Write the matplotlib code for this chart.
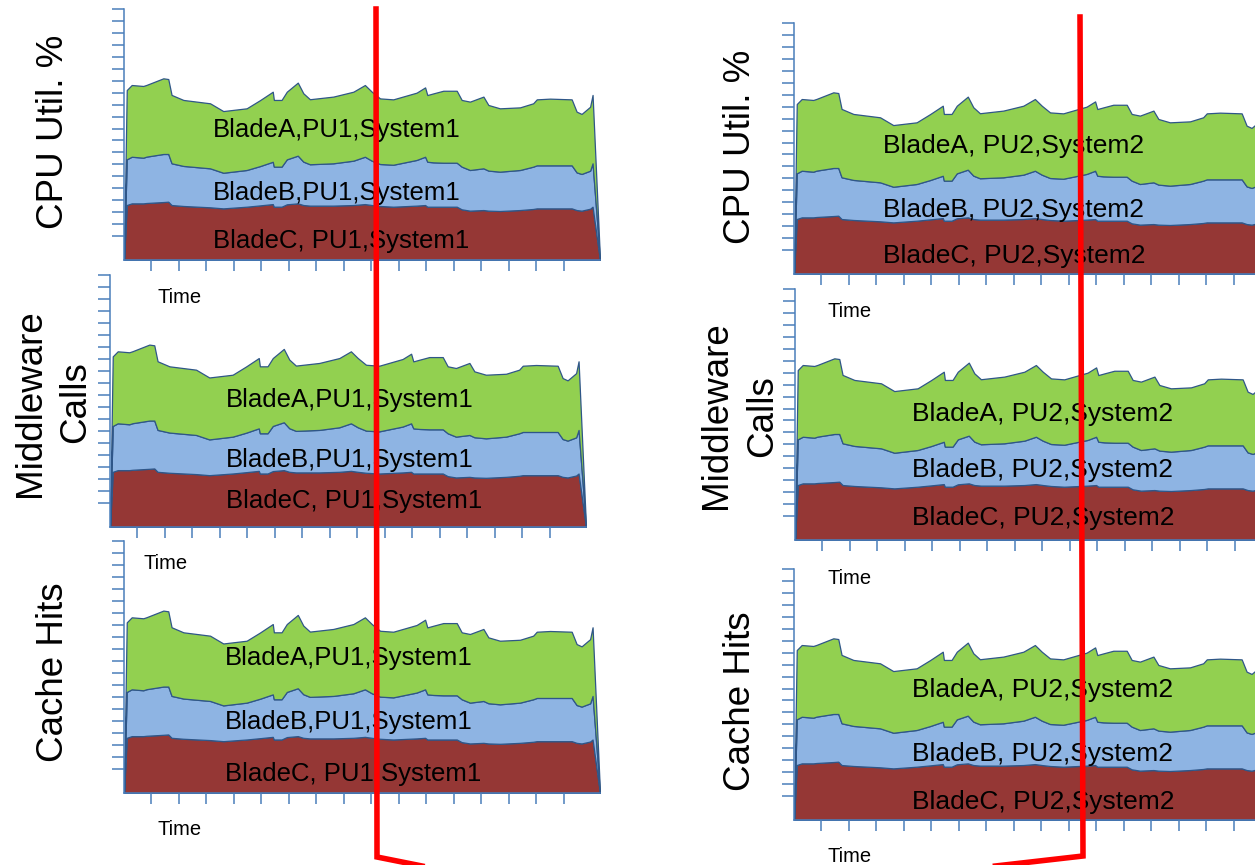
import matplotlib
matplotlib.use("Agg")
import matplotlib.pyplot as plt
from matplotlib.lines import Line2D

plt.rcParams['font.family'] = ['Liberation Sans', 'DejaVu Sans']

W, H = 1255, 865

# ---- data (same trace repeated in every panel) ----
time = [0.00, 0.10, 0.28, 0.70, 0.82, 1.43, 1.61, 1.73, 2.16, 3.13, 3.61,
        4.46, 4.95, 5.41, 5.45, 5.73, 5.92, 6.32, 6.52, 6.76, 7.61,
        8.34, 8.76, 9.01, 9.31, 9.79, 10.64, 10.95, 11.03, 11.25, 11.61,
        12.10, 12.28, 12.58, 13.07, 13.25, 13.67, 14.40, 14.88, 15.01, 15.49,
        16.28, 16.46, 16.64, 16.95, 17.04, 17.31]
blade_c = [0, 4.60, 4.74, 4.74, 4.77, 4.85, 4.88, 4.60, 4.52, 4.41, 4.32,
           4.46, 4.57, 4.68, 4.46, 4.46, 4.66, 4.74, 4.60, 4.55, 4.55,
           4.60, 4.68, 4.60, 4.52, 4.46, 4.55, 4.60, 4.46, 4.46, 4.46,
           4.46, 4.24, 4.13, 4.18, 4.13, 4.10, 4.18, 4.27, 4.32, 4.32,
           4.32, 4.18, 4.13, 4.29, 4.46, 0]
blade_b = [0, 3.82, 3.90, 3.82, 3.88, 4.02, 3.99, 3.49, 3.35, 3.26, 2.98,
           3.07, 3.29, 3.54, 3.35, 3.35, 3.76, 3.99, 3.63, 3.46, 3.54,
           3.71, 3.96, 3.71, 3.51, 3.51, 3.82, 4.04, 3.76, 3.71, 3.68,
           3.68, 3.57, 3.40, 3.49, 3.35, 3.29, 3.35, 3.54, 3.60, 3.60,
           3.60, 3.15, 3.07, 3.18, 3.63, 0]
blade_a = [0, 5.80, 6.00, 6.00, 6.00, 6.33, 6.27, 5.72, 5.52, 5.44, 5.16,
           5.16, 5.52, 5.86, 5.58, 5.58, 5.66, 6.11, 5.72, 5.44, 5.58,
           5.77, 6.00, 5.77, 5.49, 5.47, 5.63, 5.80, 5.58, 5.77, 6.02,
           6.02, 5.58, 5.72, 6.00, 5.49, 5.30, 5.24, 5.30, 5.52, 5.58,
           5.52, 5.08, 5.02, 5.35, 5.72, 0]

x_ticks = list(range(1, 17))
y_ticks = list(range(2, 22))
x_max, y_max = 17.31, 21

metric_labels = [["CPU Util. %"], ["Middleware", "Calls"], ["Cache Hits"]]
series_left = ["BladeA,PU1,System1", "BladeB,PU1,System1", "BladeC, PU1,System1"]
series_right = ["BladeA, PU2,System2", "BladeB, PU2,System2", "BladeC, PU2,System2"]
x_title = "Time"

GREEN, BLUE, RED = '#92d050', '#8eb4e3', '#953735'
AXC = '#4a7ebb'
EDGE = '#2f5688'

# ---- layout (pixels) ----
panels = [
    dict(box=(124, 9, 260), lx=213, lb=(137, 200, 248), tpos=(158, 303),
         ylab=[(63, 131.5)], metric=0, names=series_left, fs=18.5),
    dict(box=(110, 275, 527), lx=226, lb=(407, 467, 508), tpos=(144, 569),
         ylab=[(40, 403), (85, 402)], metric=1, names=series_left, fs=18.5),
    dict(box=(124, 541, 793), lx=225, lb=(665, 729, 781), tpos=(158, 835),
         ylab=[(63, 672)], metric=2, names=series_left, fs=18.5),
    dict(box=(794, 23, 274), lx=883, lb=(153, 217, 263), tpos=(828, 317),
         ylab=[(750, 146.5)], metric=0, names=series_right, fs=19),
    dict(box=(795, 289, 540), lx=912, lb=(421, 477, 525), tpos=(828, 584),
         ylab=[(726, 415), (772, 416)], metric=1, names=series_right, fs=19),
    dict(box=(794, 569, 820), lx=912, lb=(697, 761, 809), tpos=(828, 862),
         ylab=[(750, 701)], metric=2, names=series_right, fs=19),
]

fig = plt.figure(figsize=(W / 100, H / 100), dpi=100)


def fx(x):
    return x / W


def fy(y):
    return 1 - y / H


for p in panels:
    left, top, bottom = p['box']
    ax = fig.add_axes([fx(left), fy(bottom), 476 / W, (bottom - top) / H])
    ax.set_facecolor('none')
    ax.stackplot(time, blade_c, blade_b, blade_a,
                 colors=[RED, BLUE, GREEN], edgecolor=EDGE, linewidth=0.9)
    ax.set_xlim(0, x_max)
    ax.set_ylim(0, y_max)
    ax.set_xticks(x_ticks)
    ax.set_yticks(y_ticks)
    ax.tick_params(axis='y', direction='out', length=8.6, width=1.1,
                   color=AXC, labelleft=False)
    ax.tick_params(axis='x', direction='out', length=8.0, width=1.1,
                   color=AXC, labelbottom=False)
    for s in ('top', 'right'):
        ax.spines[s].set_visible(False)
    for s in ('left', 'bottom'):
        ax.spines[s].set_color(AXC)
        ax.spines[s].set_linewidth(1.1)

    for name, base in zip(p['names'], p['lb']):
        fig.text(fx(p['lx']), fy(base), name, fontsize=p['fs'],
                 ha='left', va='baseline', color='black')

    fig.text(fx(p['tpos'][0]), fy(p['tpos'][1]), x_title, fontsize=14.5,
             ha='left', va='baseline', color='black')

    for txt, (bx, cy) in zip(metric_labels[p['metric']], p['ylab']):
        fig.text(fx(bx), fy(cy), txt, fontsize=26.5, rotation=90,
                 rotation_mode='anchor', ha='center', va='baseline',
                 color='black')

# red bracket lines
left_line = Line2D([fx(376), fx(377), fx(432)], [fy(9), fy(857), fy(868)],
                   transform=fig.transFigure, color='#ff0000', lw=4,
                   solid_joinstyle='miter', zorder=20, clip_on=False)
right_line = Line2D([fx(1080), fx(1083), fx(978)], [fy(17), fy(856), fy(868)],
                    transform=fig.transFigure, color='#ff0000', lw=4,
                    solid_joinstyle='miter', zorder=20, clip_on=False)
fig.lines.extend([left_line, right_line])

fig.savefig('out.png', dpi=100)
